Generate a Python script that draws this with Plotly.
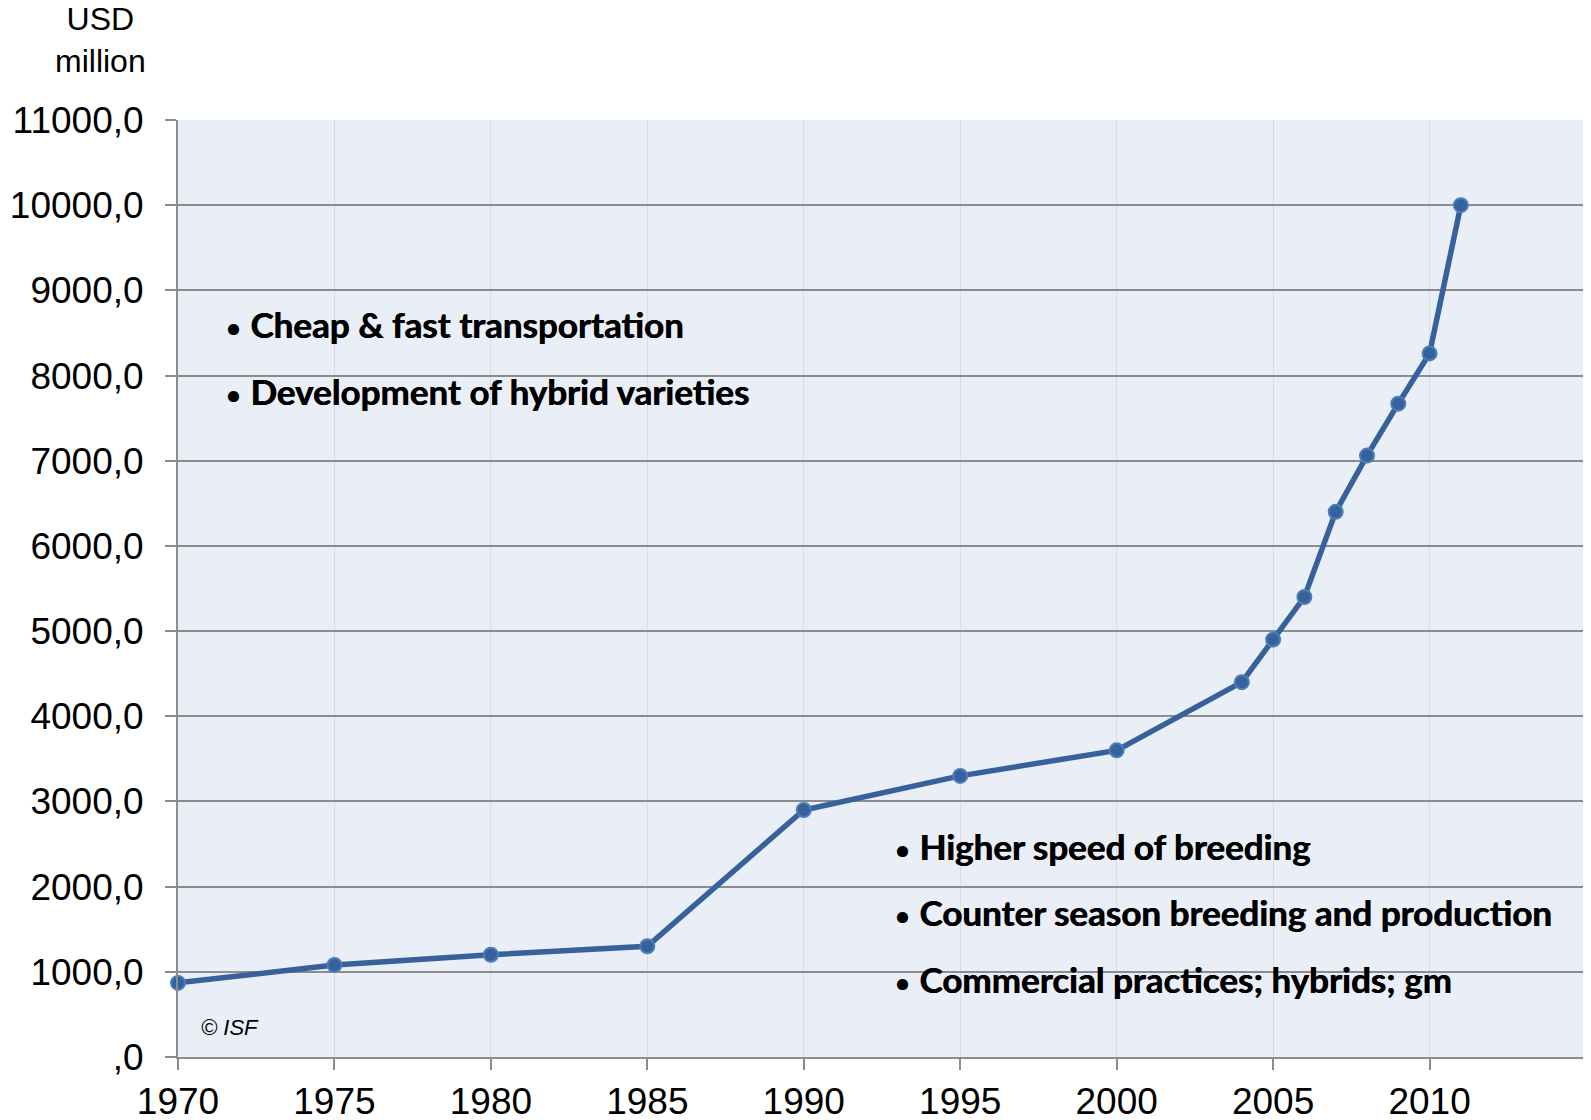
import plotly.graph_objects as go

years = [1970, 1975, 1980, 1985, 1990, 1995, 2000, 2004, 2005, 2006, 2007, 2008, 2009, 2010, 2011]
values = [870, 1080, 1200, 1300, 2900, 3300, 3600, 4400, 4900, 5400, 6400, 7060, 7670, 8260, 10000]

y_tickvals = list(range(0, 11001, 1000))
y_ticktext = [",0"] + [f"{v},0" for v in y_tickvals[1:]]
x_tickvals = [1970, 1975, 1980, 1985, 1990, 1995, 2000, 2005, 2010, 2015]
x_ticktext = ["1970", "1975", "1980", "1985", "1990", "1995", "2000", "2005", "2010", ""]

upper_notes = ["Cheap & fast transportation", "Development of hybrid varieties"]
lower_notes = ["Higher speed of breeding", "Counter season breeding and production",
               "Commercial practices; hybrids; gm"]

# page has an 8px body margin, so the figure is drawn offset by 8px
OFF = 8
W, H = 1591 - OFF, 1120 - OFF
L, R, T, B = 178 - OFF, 1586 - OFF, 120 - OFF, 1057 - OFF

fig = go.Figure()
fig.add_trace(go.Scatter(
    x=years, y=values, mode="lines+markers",
    line=dict(color="#36619a", width=5.5),
    marker=dict(size=14, color="#36619a", line=dict(color="#4a7ebb", width=2)),
    cliponaxis=False, showlegend=False, hoverinfo="x+y"))

fig.update_layout(
    width=W, height=H,
    margin=dict(l=L, r=W - R, t=T, b=H - B, autoexpand=False),
    paper_bgcolor="white", plot_bgcolor="#eaeff7",
    font=dict(family="Liberation Sans, Arial, sans-serif", color="black"),
)
fig.update_xaxes(
    range=[1970, 2015], tickvals=x_tickvals, ticktext=x_ticktext, automargin=False,
    tickfont=dict(size=37), ticks="outside", ticklen=11, tickwidth=2, tickcolor="#8c8c8c",
    showline=True, linecolor="#8c8c8c", linewidth=2,
    showgrid=True, gridcolor="#d8dce4", gridwidth=1, zeroline=False)
fig.update_yaxes(
    range=[0, 11000], tickvals=y_tickvals, ticktext=y_ticktext, automargin=False,
    tickfont=dict(size=37), ticks="outside", ticklen=11, tickwidth=2, tickcolor="#8c8c8c",
    ticklabelstandoff=14,
    showline=True, linecolor="#8c8c8c", linewidth=2,
    showgrid=True, gridcolor="#8c8c8c", gridwidth=2, zeroline=False)

note_font = dict(family="Lato, Noto Sans, sans-serif", size=35, color="black",
                 shadow="0.7px 0px 0px #000")
bullet = "<span style='font-size:28px'>•</span> "


# positions given in page pixels
def px(x):
    return (x - OFF - L) / (R - L)


def py(y):
    return (B - (y - OFF)) / (B - T)


upper_y = [324, 391]
for txt, yp in zip(upper_notes, upper_y):
    fig.add_annotation(text=bullet + "<b>" + txt + "</b>", xref="paper", yref="paper",
                       x=px(223), y=py(yp),
                       xanchor="left", yanchor="middle", showarrow=False, font=note_font)
lower_y = [846, 912, 979]
for txt, yp in zip(lower_notes, lower_y):
    fig.add_annotation(text=bullet + "<b>" + txt + "</b>", xref="paper", yref="paper",
                       x=px(892), y=py(yp),
                       xanchor="left", yanchor="middle", showarrow=False, font=note_font)

fig.add_annotation(text="<i>© ISF</i>", xref="paper", yref="paper",
                   x=px(199), y=py(1027),
                   xanchor="left", yanchor="middle", showarrow=False,
                   font=dict(family="Liberation Sans, Arial, sans-serif", size=22))
fig.add_annotation(text="USD<br>million", xref="paper", yref="paper",
                   x=px(100), y=py(40),
                   xanchor="center", yanchor="middle", showarrow=False, align="center",
                   font=dict(family="Liberation Sans, Arial, sans-serif", size=32))

fig.write_html("out.html")
